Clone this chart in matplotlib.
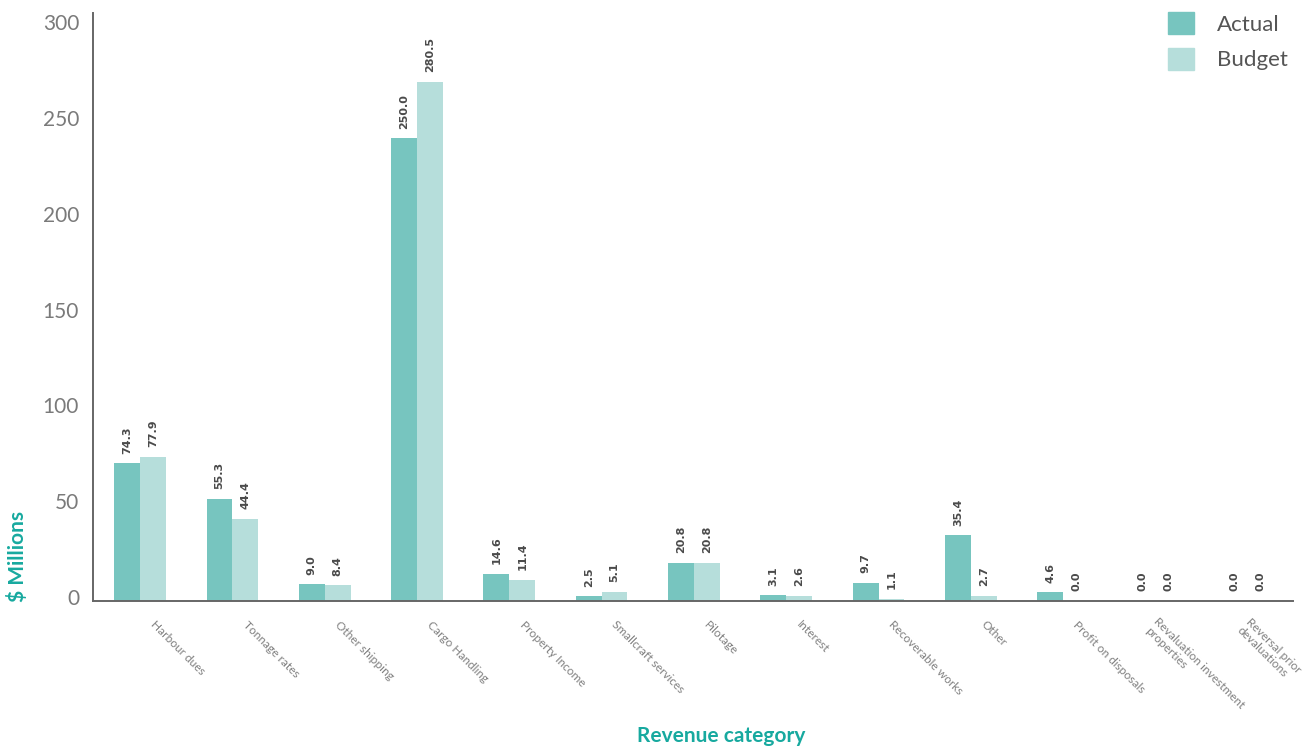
import matplotlib
matplotlib.use("Agg")
import matplotlib.pyplot as plt
import numpy as np
from matplotlib.patches import Patch
from matplotlib.transforms import ScaledTranslation

categories = ["Harbour dues", "Tonnage rates", "Other shipping", "Cargo Handling",
              "Property Income", "Smallcraft services", "Pilotage", "Interest",
              "Recoverable works", "Other", "Profit on disposals",
              "Revaluation investment\nproperties", "Reversal prior\ndevaluations"]
actual = [74.3, 55.3, 9.0, 250.0, 14.6, 2.5, 20.8, 3.1, 9.7, 35.4, 4.6, 0.0, 0.0]
budget = [77.9, 44.4, 8.4, 280.5, 11.4, 5.1, 20.8, 2.6, 1.1, 2.7, 0.0, 0.0, 0.0]
y_ticks = [0, 50, 100, 150, 200, 250, 300]

ACT = "#77c5bf"
BUD = "#b6dedb"
TEAL = "#17a99f"
GRAY = "#7a7a7a"
DARK = "#4a4a4a"

plt.rcParams['font.family'] = ['Lato', 'DejaVu Sans']

fig = plt.figure(figsize=(13.06, 7.47), dpi=100)
W, H = 1306, 747
ax = fig.add_axes([93 / W, 1 - 601 / H, (1293 - 93) / W, (601 - 13) / H])

x = np.arange(len(categories))
w = 0.28
b1 = ax.bar(x - w / 2, actual, w, color=ACT, label="Actual")
b2 = ax.bar(x + w / 2, budget, w, color=BUD, label="Budget")

for bars, vals in ((b1, actual), (b2, budget)):
    for r, v in zip(bars, vals):
        ax.annotate(f"{v:.1f}", (r.get_x() + r.get_width() / 2, r.get_height()),
                    xytext=(0, 7), textcoords="offset points", rotation=90,
                    ha="center", va="bottom", fontsize=8, fontweight="bold",
                    family="DejaVu Sans", color=DARK)

ax.set_xlim(-0.51, 12.49)
ax.set_ylim(0, 317.7)
# axis tick spacing as drawn in the reference (slightly wider than bar scale)
ax.set_yticks([(4 + v * 1.9167) / 1.851 for v in y_ticks])
ax.set_yticklabels([str(v) for v in y_ticks])
ax.tick_params(axis="y", length=0, pad=10, labelsize=15, labelcolor=GRAY)

ax.set_xticks(x)
ax.set_xticklabels(categories, rotation=-45, ha="left", va="top",
                   rotation_mode="anchor", fontsize=8.6, color="#808080")
ax.tick_params(axis="x", length=0, pad=13)
for lab, name in zip(ax.get_xticklabels(), categories):
    if "\n" in name:
        dx, dy = 4, 3
    else:
        dx, dy = 16, 0
    off = ScaledTranslation(dx / 100, dy / 100, fig.dpi_scale_trans)
    lab.set_transform(lab.get_transform() + off)

for s in ("top", "right"):
    ax.spines[s].set_visible(False)
for s in ("left", "bottom"):
    ax.spines[s].set_color("#666666")
    ax.spines[s].set_linewidth(1.4)

fig.text(18 / W, 1 - 557 / H, "$ Millions", rotation=90, ha="center", va="center",
         fontsize=15, fontweight="bold", color=TEAL)
fig.text(721 / W, 1 - 736 / H, "Revenue category", ha="center", va="center",
         fontsize=15, fontweight="bold", color=TEAL)

handles = [Patch(color=ACT, label="Actual"), Patch(color=BUD, label="Budget")]
leg = fig.legend(handles=handles, loc="upper left",
                 bbox_to_anchor=(1168 / W, 1 - 12 / H), frameon=False,
                 fontsize=16, handlelength=1.15, handleheight=1.15,
                 handletextpad=1.05, labelspacing=0.6, borderpad=0,
                 borderaxespad=0)
for t in leg.get_texts():
    t.set_color("#555555")

fig.savefig("out.png", dpi=100)
